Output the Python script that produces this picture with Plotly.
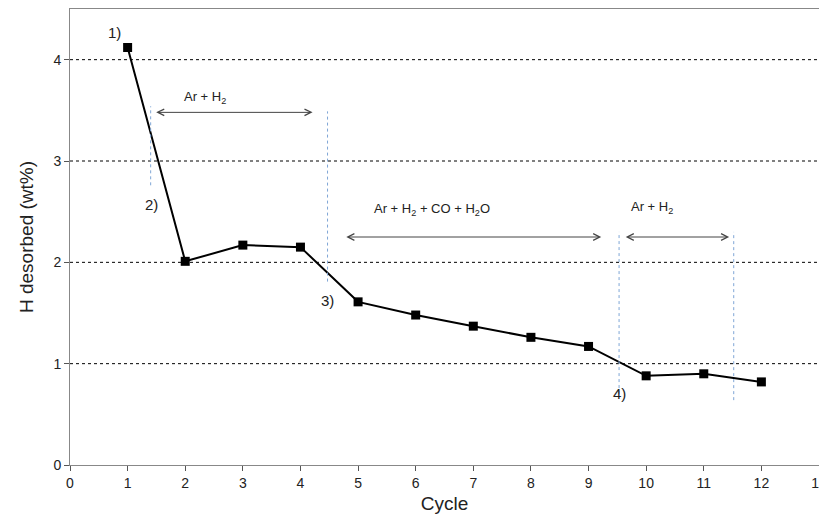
import plotly.graph_objects as go

cycles = [1, 2, 3, 4, 5, 6, 7, 8, 9, 10, 11, 12]
h_desorbed = [4.12, 2.01, 2.17, 2.15, 1.61, 1.48, 1.37, 1.26, 1.17, 0.88, 0.90, 0.82]

x_ticks = list(range(0, 14))
y_ticks = [0, 1, 2, 3, 4]

# separator lines (x, y0, y1)
sep_x = [1.4, 4.47, 9.53, 11.52]
sep_y0 = [2.76, 1.81, 0.70, 0.64]
sep_y1 = [3.54, 3.49, 2.30, 2.30]

# arrows (x0, x1, y) and labels
arrow_x0 = [1.47, 4.77, 9.62]
arrow_x1 = [4.21, 9.22, 11.44]
arrow_y = [3.48, 2.25, 2.25]
gas_labels = ["Ar + H<sub>2</sub>", "Ar + H<sub>2</sub> + CO + H<sub>2</sub>O", "Ar + H<sub>2</sub>"]
gas_x = [2.34, 6.29, 10.1]
gas_y = [3.63, 2.52, 2.54]

step_labels = ["1)", "2)", "3)", "4)"]
step_x = [0.78, 1.42, 4.47, 9.53]
step_y = [4.27, 2.57, 1.62, 0.71]

fig = go.Figure()
fig.add_trace(go.Scatter(
    x=cycles, y=h_desorbed, mode="lines+markers",
    line=dict(color="black", width=2),
    marker=dict(symbol="square", size=9, color="black"),
    showlegend=False,
))

shapes = []
for xv, a, b in zip(sep_x, sep_y0, sep_y1):
    shapes.append(dict(type="line", x0=xv, x1=xv, y0=a, y1=b, xref="x", yref="y",
                       line=dict(color="#7fa6d6", width=1, dash="dot")))
# gridlines
for yv in [1, 2, 3, 4]:
    shapes.append(dict(type="line", x0=0, x1=13, y0=yv, y1=yv, xref="x", yref="y",
                       line=dict(color="black", width=1, dash="dot"), layer="below"))

annotations = []
for x0, x1, yv in zip(arrow_x0, arrow_x1, arrow_y):
    annotations.append(dict(x=x1, y=yv, ax=x0, ay=yv, xref="x", yref="y", axref="x", ayref="y",
                            showarrow=True, arrowhead=5, startarrowhead=5, arrowside="end+start",
                            arrowsize=1.3, startarrowsize=1.3,
                            arrowwidth=1, arrowcolor="#444444", text=""))
for t, xv, yv in zip(gas_labels, gas_x, gas_y):
    annotations.append(dict(x=xv, y=yv, text=t, showarrow=False, xref="x", yref="y",
                            font=dict(family="Liberation Sans, Arial", size=13, color="#222222")))
for t, xv, yv in zip(step_labels, step_x, step_y):
    annotations.append(dict(x=xv, y=yv, text=t, showarrow=False, xref="x", yref="y",
                            font=dict(family="Liberation Sans, Arial", size=15, color="#222222")))

fig.update_layout(
    width=819, height=509,
    margin=dict(l=62, r=8, t=1, b=52),
    paper_bgcolor="white", plot_bgcolor="white",
    shapes=shapes, annotations=annotations,
    font=dict(family="Liberation Sans, Arial", color="#222222"),
)
fig.update_xaxes(range=[0, 13], tickvals=x_ticks, ticks="outside", ticklen=5,
                 tickcolor="#555555", showgrid=False, zeroline=False, automargin=False,
                 showline=True, linecolor="#888888", mirror=True, linewidth=1,
                 tickfont=dict(size=14, family="Liberation Sans Narrow, Liberation Sans"),
                 title=dict(text="Cycle", font=dict(size=19), standoff=6))
fig.update_yaxes(range=[0, 4.5], tickvals=y_ticks, ticks="outside", ticklen=5,
                 tickcolor="#555555", showgrid=False, zeroline=False, automargin=False,
                 showline=True, linecolor="#888888", mirror=True, linewidth=1,
                 tickfont=dict(size=14, family="Liberation Sans Narrow, Liberation Sans"),
                 title=dict(text="H desorbed (wt%)", font=dict(size=19), standoff=14))

fig.write_html("out.html")
